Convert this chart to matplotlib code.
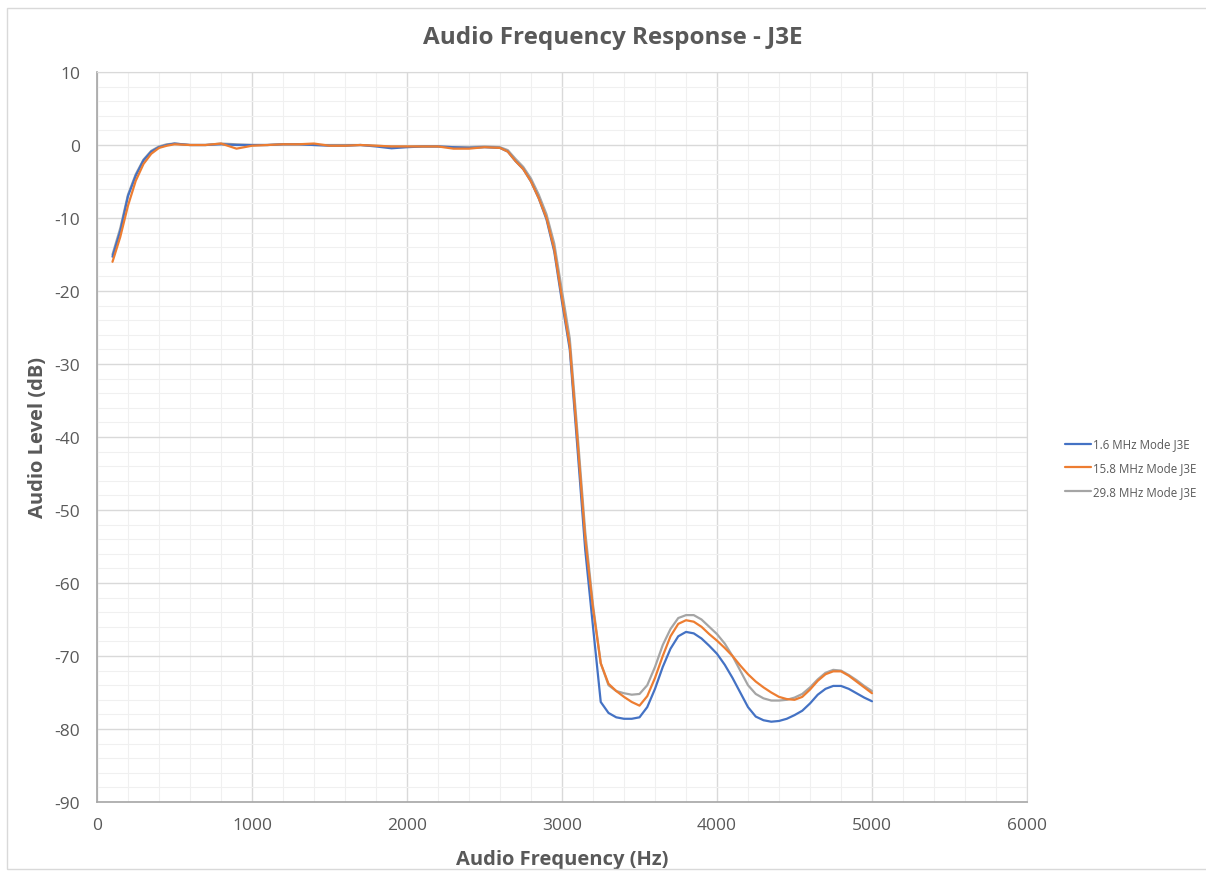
import matplotlib
matplotlib.use('Agg')
import matplotlib.pyplot as plt
from matplotlib.ticker import MultipleLocator
from matplotlib.patches import Rectangle
import numpy as np

plt.rcParams['font.family'] = ['Open Sans', 'DejaVu Sans']
plt.rcParams['axes.unicode_minus'] = False

# frequency points (Hz)
freq_low = [100, 150, 200, 250, 300, 350, 400, 450, 500]
freq_mid = list(range(600, 2600, 100))
freq_high = list(range(2600, 5050, 50))
freq = freq_low + freq_mid + freq_high

series_names = ['1.6 MHz Mode J3E', '15.8 MHz Mode J3E', '29.8 MHz Mode J3E']

level_1_6 = [-15.3, -11.8, -7.0, -4.2, -2.1, -0.9, -0.3, 0.0, 0.2,
             0.0, 0.0, 0.1, 0.0, 0.0, 0.0, 0.1, 0.1, 0.0, -0.1,
             -0.1, 0.0, -0.2, -0.45, -0.3, -0.2, -0.2, -0.3, -0.4, -0.3,
             -0.4, -0.9, -2.2, -3.3, -5.0, -7.3, -10.2, -14.6, -21.5, -28.0,
             -41.6, -55.5, -66.0, -76.3, -77.8, -78.4, -78.6, -78.6, -78.4, -77.0,
             -74.5, -71.5, -69.0, -67.3, -66.7, -66.9, -67.6, -68.6, -69.7, -71.2,
             -73.0, -75.0, -77.0, -78.3, -78.8, -79.0, -78.9, -78.6, -78.1, -77.5,
             -76.5, -75.3, -74.5, -74.1, -74.1, -74.5, -75.1, -75.7, -76.2]

level_15_8 = [-16.0, -12.6, -8.3, -4.9, -2.6, -1.2, -0.4, -0.1, 0.1,
              0.0, 0.0, 0.2, -0.5, -0.1, 0.0, 0.1, 0.1, 0.2, -0.1,
              -0.1, 0.0, -0.1, -0.2, -0.2, -0.2, -0.2, -0.5, -0.5, -0.3,
              -0.4, -0.9, -2.2, -3.3, -5.0, -7.3, -10.0, -14.3, -21.0, -27.5,
              -40.5, -54.0, -63.5, -71.0, -73.8, -74.8, -75.6, -76.3, -76.8, -75.5,
              -73.0, -70.0, -67.3, -65.6, -65.1, -65.3, -66.0, -67.0, -67.9, -68.9,
              -70.0, -71.3, -72.5, -73.5, -74.3, -75.0, -75.6, -75.9, -76.0, -75.6,
              -74.6, -73.4, -72.5, -72.1, -72.1, -72.7, -73.5, -74.3, -75.1]

level_29_8 = [-15.0, -11.4, -6.8, -4.0, -2.0, -0.8, -0.2, 0.1, 0.2,
              0.0, 0.0, 0.2, 0.1, 0.0, 0.0, 0.1, 0.1, 0.0, 0.0,
              0.0, 0.0, -0.1, -0.2, -0.2, -0.2, -0.2, -0.3, -0.3, -0.2,
              -0.3, -0.7, -1.9, -3.0, -4.6, -6.8, -9.5, -13.5, -20.0, -26.5,
              -39.5, -53.0, -63.0, -71.0, -74.0, -74.8, -75.1, -75.3, -75.2, -74.0,
              -71.5, -68.5, -66.3, -64.8, -64.4, -64.4, -65.0, -66.0, -67.0, -68.3,
              -70.0, -72.0, -74.0, -75.2, -75.8, -76.1, -76.1, -76.0, -75.7, -75.2,
              -74.3, -73.2, -72.3, -71.9, -72.0, -72.6, -73.3, -74.1, -74.8]

colors = ['#4472C4', '#ED7D31', '#A5A5A5']
zorders = [3, 4, 2]

W, H = 1206, 879
fig = plt.figure(figsize=(W / 100, H / 100), dpi=100)
# outer chart border, right side runs off the image
fig.patches.append(Rectangle((7 / W, 1 - 870 / H), 1220 / W, 861 / H,
                             transform=fig.transFigure, fill=False,
                             edgecolor='#d9d9d9', lw=1))

ax = fig.add_axes([97 / W, (H - 803) / H, 930 / W, 730 / H])

for name, vals, c, z in zip(series_names, [level_1_6, level_15_8, level_29_8], colors, zorders):
    ax.plot(freq, vals, color=c, lw=1.6, label=name, zorder=z,
            solid_joinstyle='round', solid_capstyle='round')

ax.set_xlim(0, 6000)
ax.set_ylim(-90, 10)
ax.xaxis.set_major_locator(MultipleLocator(1000))
ax.xaxis.set_minor_locator(MultipleLocator(200))
ax.yaxis.set_major_locator(MultipleLocator(10))
ax.yaxis.set_minor_locator(MultipleLocator(2))
ax.grid(which='major', color='#d9d9d9', lw=1)
ax.grid(which='minor', color='#f0f0f0', lw=0.8)
ax.set_axisbelow(True)
ax.tick_params(which='both', length=0, labelsize=12.5, labelcolor='#595959')
ax.tick_params(axis='x', pad=11)
ax.tick_params(axis='y', pad=12)

for s in ['top', 'right']:
    ax.spines[s].set_color('#d9d9d9')
for s in ['left', 'bottom']:
    ax.spines[s].set_color('#a6a6a6')
    ax.spines[s].set_linewidth(1.2)

ax.set_xlabel('Audio Frequency (Hz)', fontsize=14.5, fontweight='bold', color='#595959', labelpad=11)
ax.set_ylabel('Audio Level (dB)', fontsize=14.5, fontweight='bold', color='#595959', labelpad=5)
fig.text(613 / W, 1 - 38 / H, 'Audio Frequency Response - J3E', ha='center', va='center',
         fontsize=17.5, fontweight='bold', color='#595959')

fig.legend(loc='center left', bbox_to_anchor=(1055 / W, 1 - 469 / H), frameon=False,
           fontsize=8.3, handlelength=2.2, handletextpad=0.2, labelspacing=0.95,
           labelcolor='#595959')

fig.savefig('out.png', dpi=100)
